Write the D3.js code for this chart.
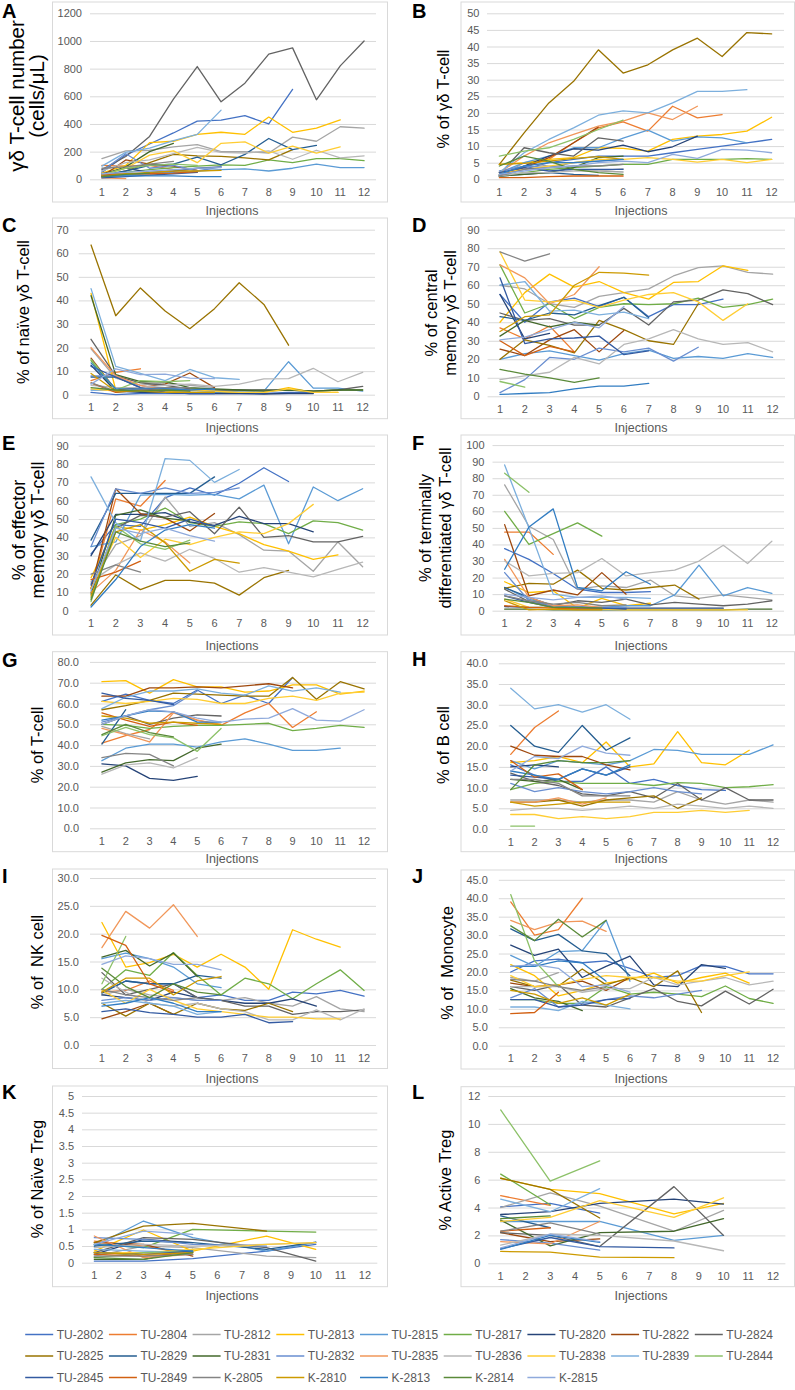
<!DOCTYPE html>
<html>
<head>
<meta charset="utf-8">
<script src="https://cdn.jsdelivr.net/npm/d3@7"></script>
<style>
  body { margin: 0; background: #fff; }
  svg { display: block; font-family: "Liberation Sans", Arial, sans-serif; }
</style>
</head>
<body>
<svg id="chart" width="795" height="1390"></svg>
<script>
// Immune monitoring panels (A–L): one line per animal, x = injection number.

const animals = ["TU-2802", "TU-2804", "TU-2812", "TU-2813", "TU-2815", "TU-2817", "TU-2820", "TU-2822", "TU-2824",
  "TU-2825", "TU-2829", "TU-2831", "TU-2832", "TU-2835", "TU-2836", "TU-2838", "TU-2839", "TU-2844",
  "TU-2845", "TU-2849", "K-2805", "K-2810", "K-2813", "K-2814", "K-2815"];
const palette = ["#4472C4", "#ED7D31", "#A5A5A5", "#FFC000", "#5B9BD5", "#70AD47", "#264478", "#9E480E", "#636363",
  "#997300", "#255E91", "#43682B", "#698ED0", "#F1975A", "#B7B7B7", "#FFCD33", "#7CAFDD", "#8CC168",
  "#335AA1", "#D26012", "#848484", "#CC9A00", "#327DC2", "#5A8A39", "#8FAADC"];

const injections = d3.range(1, 13);
const tregInjections = [1, 3, 5, 8, 10];

// A: γδ T-cell number (cells/µL)
const gdCount = {
  "TU-2802": [50, 175, 255, 335, 420, 428, 460, 400, 650],
  "TU-2804": [100, 95, 100, 70, 50],
  "TU-2812": [150, 205, 210, 235, 250, 200, 200, 190, 305, 275, 380, 370],
  "TU-2813": [45, 100, 265, 275, 325, 340, 325, 450, 340, 370, 430],
  "TU-2815": [15, 30, 40, 50, 60, 70, 75, 60, 80, 110, 85, 85],
  "TU-2817": [25, 50, 70, 85, 95, 105, 100, 140, 120, 150, 150, 135],
  "TU-2820": [40, 80, 50, 60, 80, 90],
  "TU-2822": [20, 140, 110, 95, 65],
  "TU-2824": [70, 165, 310, 580, 815, 560, 695, 905, 950, 575, 820, 1000],
  "TU-2825": [20, 60, 120, 180, 170, 165, 155, 140, 215],
  "TU-2829": [30, 60, 100, 110, 160, 105, 180, 295, 215, 245],
  "TU-2831": [30, 90, 200, 260],
  "TU-2832": [60, 185, 80, 100, 60, 90],
  "TU-2835": [10, 5],
  "TU-2836": [60, 120, 140, 185, 230, 195, 190, 205, 145, 210, 155, 170],
  "TU-2838": [30, 80, 175, 205, 120, 260, 270, 190, 240, 190, 235],
  "TU-2839": [95, 195, 225, 280, 325, 500],
  "TU-2844": [30, 80, 100, 110, 100],
  "TU-2845": [10, 20, 30, 40, 50],
  "TU-2849": [30, 40, 40, 45, 55],
  "K-2805": [80, 90, 110, 130],
  "K-2810": [20, 40, 50, 60, 60, 65],
  "K-2813": [20, 25, 25, 25, 20, 20],
  "K-2814": [20, 35, 45],
  "K-2815": [40, 50, 60, 70, 80, 85],
};

// B: % of γδ T-cell
const gdPct = {
  "TU-2802": [1, 3, 5, 6, 7, 7, 7, 8, 9, 10, 11, 12],
  "TU-2804": [1.5, 4, 6, 11, 15.5, 17.3, 14.5, 22, 18.5, 19.5],
  "TU-2812": [0.8, 5, 4, 3, 2.5, 2.2],
  "TU-2813": [4.5, 5, 6, 6.5, 9.5, 9.3, 8.5, 12, 13, 13.5, 14.5, 18.7],
  "TU-2815": [2, 5, 7, 9.5, 9.5, 12.4, 14.8, 11.5, 12.8, 12.5, 11],
  "TU-2817": [1, 2, 3, 3.5, 4, 4.5, 4.5, 6, 6, 6, 6.2, 6],
  "TU-2820": [1, 4, 7, 9.2, 8.8, 10.3, 8.3, 9.8, 13],
  "TU-2822": [1.2, 3.5, 6.5, 11, 15.8],
  "TU-2824": [1.5, 9.5, 8, 7, 12.5, 11.5],
  "TU-2825": [4.5, 14, 23, 29.5, 39, 32, 34.5, 39, 42.5, 37, 44.2, 43.8],
  "TU-2829": [1, 1.5, 2, 1.5, 1.2],
  "TU-2831": [1, 1.5, 2, 3.5, 6.5, 7],
  "TU-2832": [2.5, 4, 3.5, 5, 5.5, 6],
  "TU-2835": [2, 7, 11, 13.5, 16, 17.5, 20, 18, 22],
  "TU-2836": [1, 2, 2, 2.5, 2.5, 3.2],
  "TU-2838": [2, 3, 4, 5, 6, 6, 6.5, 6, 5.2, 6, 5, 6],
  "TU-2839": [2, 8, 12, 15.5, 19.3, 20.6, 20, 23, 26.5, 26.5, 27],
  "TU-2844": [7, 8.5, 9.5, 12, 15, 17.8],
  "TU-2845": [2, 3.5, 2.5, 3, 3, 3],
  "TU-2849": [0.5, 0.5, 0.8, 1, 1, 1],
  "K-2805": [1, 3, 3.5, 4, 4, 4.5],
  "K-2810": [4.5, 4.8, 5.5, 6.3, 6.8, 6],
  "K-2813": [1.5, 4, 5, 5, 5.5, 6],
  "K-2814": [4, 7, 5.5, 3, 2, 1.5],
  "K-2815": [1.5, 2.5, 3.5, 4, 5, 5.5, 5, 7.5, 6.3, 9, 8.8, 8],
};

// C: % of naïve γδ T-cell
const gdNaive = {
  "TU-2802": [1, 0, 0.5, 0.5, 0.5, 0.5, 0.5, 0.5, 1, 1],
  "TU-2804": [6, 9.5, 11],
  "TU-2812": [19.5, 7, 4, 5, 4, 3],
  "TU-2813": [43, 2, 1.5, 1.5, 1, 1, 1, 1, 3, 1, 1],
  "TU-2815": [2, 2, 1.5, 1, 1, 1, 1.5, 1.5, 14, 2.8, 2.8, 1.5],
  "TU-2817": [14.5, 1, 2, 2, 2.5, 2, 2, 2, 2, 1.5, 2, 2],
  "TU-2820": [12.5, 1.5, 1, 1, 0.5, 0.5, 0.5, 0.3, 0.5, 0.5],
  "TU-2822": [15.5, 2, 3, 4.5, 9.2, 3],
  "TU-2824": [23.5, 8, 5, 4, 2.5, 2, 2, 2, 2, 1.5, 2, 3.5],
  "TU-2825": [63.5, 33.5, 45.3, 35.5, 28, 36.5, 47.5, 38.3, 21],
  "TU-2829": [7.5, 7.5, 3, 2.5, 2, 1.5],
  "TU-2831": [42, 8.5, 5.5, 5.5, 3, 2.5, 2, 1.5, 2, 1.5, 2, 2],
  "TU-2832": [8, 8, 3, 3, 2, 2],
  "TU-2835": [20, 8, 4, 2, 1.5],
  "TU-2836": [4, 3, 3, 4, 4.5, 3.5, 4.5, 6.7, 6.8, 11.2, 5.5, 9.5],
  "TU-2838": [2.5, 1.5, 2, 2, 2, 1.5, 1, 1, 2.5, 1, 1],
  "TU-2839": [45, 12, 9, 6, 10.7, 7.2, 6.5],
  "TU-2844": [15, 2, 6, 5.5, 6],
  "TU-2845": [12, 7.5, 3, 1, 0.5, 0.5],
  "TU-2849": [5, 1, 2, 2, 2],
  "K-2805": [5, 1.5, 2.5, 3, 3],
  "K-2810": [9, 1.5, 1.5, 1, 1, 1],
  "K-2813": [13.5, 2.5, 2.5, 2.5, 2, 2.5],
  "K-2814": [3, 2, 1.5, 2, 1.5],
  "K-2815": [4.5, 11, 8.5, 8.7, 7, 6.8],
};

// D: % of central memory γδ T-cell
const gdCentral = {
  "TU-2802": [55, 40, 51, 53, 48.5, 53.5, 43, 49.5, 49.5, 52.5],
  "TU-2804": [37, 31, 38, 24],
  "TU-2812": [60, 58, 50, 48, 54, 56, 58, 65, 69.5, 70.5, 67, 66],
  "TU-2813": [40, 56, 66, 59, 62, 56, 52.5, 61.5, 62, 70.5, 68],
  "TU-2815": [20, 23, 24.5, 22, 19.5, 23, 25, 20.5, 21.5, 20.5, 23, 21],
  "TU-2817": [71, 45, 50, 42, 48, 50, 49.5, 50, 53, 48, 49.5, 52.5],
  "TU-2820": [55, 31, 34],
  "TU-2822": [25.5, 22, 30.5, 36, 24, 35.5],
  "TU-2824": [45, 41, 42, 38.5, 38.5, 47.5, 38.5, 51, 52, 57.5, 55.5, 49.5],
  "TU-2825": [20, 30.5, 27.5, 23.5, 41, 36, 30, 28, 50],
  "TU-2829": [43, 41, 45, 44, 49, 53.5, 42.5],
  "TU-2831": [32.5, 41, 37.5, 40, 38.5],
  "TU-2832": [2, 9, 21, 20, 26, 24, 26, 19, 26.5],
  "TU-2835": [71, 64, 50, 55, 70],
  "TU-2836": [9, 11, 13, 21, 17.5, 28, 31, 36, 31, 28, 29, 24],
  "TU-2838": [78, 52, 51, 52, 48, 52, 55, 56, 51, 41, 50],
  "TU-2839": [60, 62, 46, 46.5, 44, 45.5, 42],
  "TU-2844": [8, 5],
  "TU-2845": [64, 28.5, 31, 31.5, 32.5, 22.5, 24.5],
  "TU-2849": [30, 22, 27, 24],
  "K-2805": [78, 73, 77],
  "K-2810": [35, 43, 44, 60, 67, 66.5, 65.5],
  "K-2813": [1, 1.5, 2, 4, 5.5, 5.5, 7],
  "K-2814": [14.5, 12, 10, 7.5, 10],
  "K-2815": [30.5, 32, 36, 40, 37, 48.5],
};

// E: % of effector memory γδ T-cell
const gdEffector = {
  "TU-2802": [31, 47, 46, 61.5, 67, 63, 69.5, 78, 70.5],
  "TU-2804": [12, 61, 57, 71],
  "TU-2812": [15, 36, 41, 62, 46, 48, 41.5, 33, 32.5, 21.5, 37.5, 24],
  "TU-2813": [18, 46, 44, 47, 51, 46, 42, 36, 32.5, 28, 30.5],
  "TU-2815": [35, 37.5, 63, 63.5, 63, 63.5, 61, 68.5, 36.5, 67.5, 60, 66.5],
  "TU-2817": [7, 47, 50, 56, 48, 46, 48.5, 47.5, 42, 49, 48, 44],
  "TU-2820": [30, 52.5, 52.5, 53.5, 48.5, 46.5, 51.5, 47.5, 47.5, 43],
  "TU-2822": [12, 66.5, 53, 50.5, 43.5, 53],
  "TU-2824": [10, 45, 52, 51, 54, 42, 56.5, 40, 41, 37.5, 37.5, 40.5],
  "TU-2825": [3, 19.5, 11.5, 16.5, 16.5, 15, 8.5, 18, 22],
  "TU-2829": [38.5, 64, 64, 64, 64, 73],
  "TU-2831": [9, 52, 55, 50.5, 49],
  "TU-2832": [35, 66.5, 64, 67, 64, 64.5, 67],
  "TU-2835": [10, 22, 44, 37.5, 26],
  "TU-2836": [16, 25, 31.5, 27, 33.5, 28.5, 21, 23.5, 21, 18.5, 22.5, 26.5],
  "TU-2838": [12, 40, 29, 39, 36, 40, 43, 42, 47.5, 58],
  "TU-2839": [73, 48, 38, 83, 82, 70, 77],
  "TU-2844": [5, 46, 36.5, 33.5, 38.5],
  "TU-2845": [14, 50, 48, 45, 50, 46],
  "TU-2849": [17, 21, 27],
  "K-2805": [20, 25, 21],
  "K-2810": [8, 43, 47, 37, 21.5, 28, 26],
  "K-2813": [2, 17, 35, 44, 47, 45],
  "K-2814": [6, 43, 38, 35, 37],
  "K-2815": [11, 45, 42, 45, 41, 38],
};

// F: % of terminally differentiated γδ T-cell
const gdTerminal = {
  "TU-2802": [37.5, 31, 22.5, 13, 11, 11, 11.5],
  "TU-2804": [47.5, 47.5, 34],
  "TU-2812": [76, 51, 43, 13, 15, 14, 18.5, 9, 7.5, 9.5, 8, 6.5],
  "TU-2813": [17.5, 11, 12, 1.5, 7.5, 3, 4.5],
  "TU-2815": [14, 7, 3, 2, 2, 3, 3, 9.5, 27.5, 9, 14, 10.5],
  "TU-2817": [60, 40, 46.5, 53, 45],
  "TU-2820": [2.5, 2, 2, 2, 1.5, 1.5, 1.5, 1.5, 1.5, 1.5],
  "TU-2822": [52, 9, 12.5, 9.5, 23, 10],
  "TU-2824": [13, 5.5, 3, 6, 5, 7, 3.5, 5, 4, 3, 4, 6],
  "TU-2825": [13.5, 16.5, 16, 24.5, 13.5, 12.5, 14, 15.5, 7],
  "TU-2829": [14, 8, 3, 2.5, 1.5, 1],
  "TU-2831": [1, 1, 0.5, 0.5, 0.5, 0.5, 0.5, 0.5, 0.5, 0.5, 1, 1],
  "TU-2832": [23, 6, 3, 2.5, 2, 2],
  "TU-2835": [31, 8, 3, 3.5, 2],
  "TU-2836": [30, 21, 22.5, 23, 31.5, 21, 23, 24.5, 30, 39.5, 28.5, 42],
  "TU-2838": [7, 2, 2, 1, 1, 0.5, 0.5, 0.5, 0.5, 0.5, 0.5],
  "TU-2839": [88, 50, 10, 8, 8, 8, 7.5],
  "TU-2844": [83, 71.5],
  "TU-2845": [9, 5, 2, 1.5, 1.5, 1],
  "TU-2849": [3, 2, 1.5, 1, 1],
  "K-2805": [9, 6, 4, 5, 3, 3.5],
  "K-2810": [6, 0.5, 1, 0.5, 0.5],
  "K-2813": [25, 50.5, 61.5, 14, 12, 23.5, 16],
  "K-2814": [7, 5, 2, 2, 1.5],
  "K-2815": [10, 8, 6.5, 8, 9, 7],
};

// G: % of T-cell
const tcell = {
  "TU-2802": [61, 64.5, 61.5, 60, 66.5, 60, 64, 60, 72.5],
  "TU-2804": [41, 44.5, 47.5, 56, 52, 49.5, 55.5, 60, 48.5, 56],
  "TU-2812": [49, 45.5, 43],
  "TU-2813": [70.5, 71, 65, 71.5, 68, 68, 65.5, 66, 69, 69, 64.5, 66],
  "TU-2815": [32.5, 38.5, 40.5, 40.5, 39, 41.5, 43, 40.5, 37.5, 37.5, 38.5],
  "TU-2817": [50, 49.5, 48, 49, 49.5, 49.5, 50, 50.5, 47, 48, 49.5, 48.5],
  "TU-2820": [31, 30, 24, 23, 25],
  "TU-2822": [63.5, 63.5, 67.5, 67.5, 68, 67.5, 68.5, 69.5, 67.5],
  "TU-2824": [50, 54, 50, 53, 54.5, 54],
  "TU-2825": [57, 59, 61.5, 65, 64.5, 64, 63.5, 63.5, 72.5, 62, 70.5, 67],
  "TU-2829": [40.5, 57],
  "TU-2831": [27, 31.5, 33, 32.5, 38.5, 40.5],
  "TU-2832": [51, 54, 57, 59, 66],
  "TU-2835": [48, 45, 41.5, 55.5, 52, 50],
  "TU-2836": [26, 30.5, 31.5, 29, 34],
  "TU-2838": [61, 60, 61, 62.5, 62, 60, 60, 62.5, 63.5, 61.5, 65, 65.5],
  "TU-2839": [57.5, 63, 66, 66, 67, 65, 64, 68.5, 66, 67.5, 65.5],
  "TU-2844": [44.5, 48.5, 45, 43.5, 37, 48],
  "TU-2845": [65, 62.5, 61.5, 59.5],
  "TU-2849": [55.5, 52, 49, 51, 49.5],
  "K-2805": [34, 36, 35.5, 30],
  "K-2810": [54, 53, 50.5, 51, 50.5, 50],
  "K-2813": [52, 54, 56.5, 56, 51, 51],
  "K-2814": [45, 50, 46, 44],
  "K-2815": [50, 54, 57, 56, 53, 51, 52.5, 53, 57.5, 52, 51.5, 57],
};

// H: % of B cell
const bcell = {
  "TU-2802": [15.5, 13, 11.5, 11.5, 15, 11, 12, 10.5, 9.5, 9.3],
  "TU-2804": [18, 24.5, 28.5],
  "TU-2812": [7, 7, 7, 6.5, 7, 7, 6.5, 9, 7, 6, 7, 6.5],
  "TU-2813": [16, 16.5, 17.5, 16, 21, 15, 15.7, 23.5, 16, 15.5, 19],
  "TU-2815": [16.5, 14.5, 16.5, 16, 15.5, 16.5, 19.2, 19, 18, 18, 18, 20.3],
  "TU-2817": [9.5, 11, 11.5, 11, 11, 11, 10.5, 11.2, 11, 10, 10.2, 10.7],
  "TU-2820": [15, 15.5, 15],
  "TU-2822": [20, 17.8, 17.5, 17.5, 15.5, 14.3],
  "TU-2824": [13.5, 11.5, 10.5, 8.5, 8, 9, 7.5, 11, 7, 10, 7, 7],
  "TU-2825": [6.5, 6.5, 7, 5.5, 7, 7.5, 8, 5, 7.5],
  "TU-2829": [25, 20, 18.5, 25, 19, 22],
  "TU-2831": [12, 11.5, 12, 9.5],
  "TU-2832": [11, 9, 10, 9, 8.5, 9, 10, 9, 8.5],
  "TU-2835": [6.5, 6.5, 7.5, 6, 7.5],
  "TU-2836": [4.5, 5, 5, 4.5, 5, 5.5, 5, 6, 5.5, 5, 5.5, 5],
  "TU-2838": [3.5, 3.5, 2.5, 3, 2.5, 3, 4, 4, 4.5, 4, 4.5],
  "TU-2839": [34, 29, 30, 28.2, 30, 26.5],
  "TU-2844": [0.7, 0.7],
  "TU-2845": [13, 12.5, 12, 14.5, 13, 15],
  "TU-2849": [16.5, 12.5, 13.3, 9.5],
  "K-2805": [12, 12, 11, 8, 8, 8],
  "K-2810": [6.5, 5.5, 6, 6.5, 6.5, 6.5],
  "K-2813": [14, 13, 12, 14.5, 13, 15.5],
  "K-2814": [9.5, 15.5, 16.5, 16, 16, 16.5],
  "K-2815": [14, 17.5, 17, 20, 18.3, 17.8],
};

// I: % of NK cell
const nkcell = {
  "TU-2802": [9.5, 11.5, 11, 11, 8.5, 9, 8, 8, 9.5, 9.2, 9.8, 8.8],
  "TU-2804": [9.5, 9.8, 11.5, 9.8],
  "TU-2812": [9, 10, 9, 8.5, 8, 8, 8.5, 7.5, 7, 8.7, 6.5, 6],
  "TU-2813": [22, 14, 14.8, 16.3, 14, 16.3, 14, 10, 20.7, 19, 17.6],
  "TU-2815": [15.5, 16.5, 15.5, 14, 11, 10.3],
  "TU-2817": [10, 13.5, 12.5, 16.6, 12.5, 9, 12, 11, 8.3, 11, 13.5, 9.8],
  "TU-2820": [9, 8.5, 8, 9.5, 8.5, 8, 7.5, 7.5, 8.3, 7],
  "TU-2822": [4.7, 6, 7.5, 5.5],
  "TU-2824": [13, 9, 10, 11, 8.5, 8, 7, 7, 5.5, 6, 6, 6.3],
  "TU-2825": [7.5, 5.2, 7.5, 5.5, 7.5, 6.5, 6.2, 7.5, 6],
  "TU-2829": [9.3, 11.5, 11, 11, 12.5, 12],
  "TU-2831": [15.8, 17, 14.2, 16.5, 12.3],
  "TU-2832": [8, 8.5, 8, 8.5, 8, 8],
  "TU-2835": [17.5, 24, 21, 25.2, 19.5],
  "TU-2836": [12, 9.5, 7.5, 7, 7.5, 6.5, 6, 4.5, 4.5, 6.3, 4.5, 6.5],
  "TU-2838": [9.8, 7.5, 10, 8, 6.5, 6, 5.5, 5, 5, 4.7, 4.7],
  "TU-2839": [7.5, 8, 7.5, 7, 5.5, 6],
  "TU-2844": [11, 19.5],
  "TU-2845": [6, 6.5, 5.8, 5.5, 5, 5, 5.5, 4, 4.2],
  "TU-2849": [19.7, 17.9, 11, 9.5],
  "K-2805": [10, 9, 8.5, 8, 8.5],
  "K-2810": [9.5, 12, 12, 9, 11.5, 12.3],
  "K-2813": [7, 7.5, 8.5, 7.5, 6, 6],
  "K-2814": [13.8, 10.5, 8.5, 11, 9.5, 9],
  "K-2815": [14.5, 16, 15.5, 14.5, 14.5, 13.5],
};

// J: % of Monocyte
const monocyte = {
  "TU-2802": [20, 23, 23.5, 22.5, 23, 21, 18.5, 19, 21.7, 21.5, 19.5, 19.5],
  "TU-2804": [39, 30, 31.5, 40],
  "TU-2812": [18.5, 17.5, 19.8],
  "TU-2813": [22, 19, 13.5, 15, 17, 18, 19.7, 17, 18.5, 19.7, 17],
  "TU-2815": [24.5, 21.5, 25.5, 25.8, 34, 17.5],
  "TU-2817": [12.5, 12.5, 11.5, 11.5, 16, 14, 14.5, 14, 13.3, 16.2, 12.8, 11.5],
  "TU-2820": [27.3, 24.5, 26.2, 18.5, 21.5, 24.3, 16.5, 16, 22, 21],
  "TU-2822": [17, 16, 16.5, 17.5, 15, 18.5],
  "TU-2824": [16, 15, 16.5, 11, 10.5, 13, 15.5, 12, 10.8, 14.8, 11.3, 15.3],
  "TU-2825": [17.8, 16, 16.2, 20.8, 16.5, 18.5, 16, 20.3, 9],
  "TU-2829": [31.7, 28.5, 30.2, 25.7, 25, 19],
  "TU-2831": [15.5, 13, 12, 9.5],
  "TU-2832": [13, 15.5, 10.5, 11.5, 12.5, 13.5, 13, 14, 15],
  "TU-2835": [34, 31.5, 33.5, 33.8, 31],
  "TU-2836": [16, 16, 16, 14.5, 15.5, 15.5, 18.5, 16.5, 17.5, 18.5, 16.5, 17.5],
  "TU-2838": [19, 16, 16.5, 18, 19, 18.5, 18.5, 17.5, 17.5, 19, 20],
  "TU-2839": [10.5, 10.5, 9.5, 12, 11, 10],
  "TU-2844": [41, 23, 16],
  "TU-2845": [12.5, 12.5, 10.5, 11, 12.5, 12.8],
  "TU-2849": [8.7, 9, 14.5],
  "K-2805": [18, 17.5, 16, 15, 16],
  "K-2810": [15, 14, 11.5, 13, 11, 14],
  "K-2813": [21.5, 21.5, 23, 22.5, 17.5],
  "K-2814": [32.5, 28.5, 34.3, 29.5, 34],
  "K-2815": [21.5, 22, 21, 16, 16.5, 14.5],
};

// K: % of naïve Treg (measured at injections 1, 3, 5, 8, 10)
const tregNaive = {
  "TU-2802": [0.05, 0.05, 0.12, 0.35, 0.55],
  "TU-2804": [0.65, 0.5, 0.25],
  "TU-2812": [0.2, 0.5, 0.45, 0.2, 0.15],
  "TU-2813": [0.35, 0.98, 0.35, 0.8, 0.4],
  "TU-2815": [0.5, 1.25, 0.75, 0.35, 0.6],
  "TU-2817": [0.55, 0.45, 1.0, 0.95, 0.92],
  "TU-2820": [0.25, 0.7, 0.6],
  "TU-2822": [0.6, 0.55, 0.2],
  "TU-2824": [0.3, 0.75, 0.7, 0.45, 0.05],
  "TU-2825": [0.6, 1.1, 1.18, 0.95],
  "TU-2829": [0.5, 0.65, 0.6, 0.4, 0.62],
  "TU-2831": [0.1, 0.1, 0.4],
  "TU-2832": [0.75, 0.7, 0.55, 0.5],
  "TU-2835": [0.8, 0.15, 0.25],
  "TU-2836": [0.45, 0.55, 0.5, 0.55, 0.6],
  "TU-2838": [0.3, 0.3, 0.4, 0.55, 0.6],
  "TU-2839": [0.4, 0.35, 0.3],
  "TU-2844": [0.15, 0.3, 0.35],
  "TU-2845": [0.3, 0.25, 0.35],
  "TU-2849": [0.25, 0.2, 0.3],
  "K-2805": [0.2, 0.2, 0.25],
  "K-2810": [0.3, 0.25, 0.3],
  "K-2813": [0.55, 0.45, 0.35],
  "K-2814": [0.15, 0.1, 0.3],
  "K-2815": [0.55, 0.95, 0.85],
};

// L: % active Treg (measured at injections 1, 3, 5, 8, 10)
const tregActive = {
  "TU-2802": [4.05, 4.3, 3.6],
  "TU-2804": [4.85, 4.15],
  "TU-2812": [4, 5.05, 4.1, 2.3, 3.8],
  "TU-2813": [6.1, 5.3, 5.0, 3.55, 4.3],
  "TU-2815": [3.0, 3.0, 3.0, 1.65, 2.0],
  "TU-2817": [6.4, 4.2],
  "TU-2820": [3.5, 3.7, 4.3, 4.6, 4.25],
  "TU-2822": [2.2, 1.55, 1.75],
  "TU-2824": [2.2, 2.0, 1.2, 5.5, 2],
  "TU-2825": [6.1, 5.3, 3.25],
  "TU-2829": [3.4, 2.55],
  "TU-2831": [3.1, 1.25, 2.2, 2.3, 3.2],
  "TU-2832": [1.7, 1.45, 0.95],
  "TU-2835": [1.55, 1.4, 3.0],
  "TU-2836": [1.3, 2.1, 2.0, 1.6, 0.9],
  "TU-2838": [3.0, 3.3, 4.5, 3.3, 4.7],
  "TU-2839": [4.6, 3.7, 5.35],
  "TU-2844": [11, 5.9, 7.35],
  "TU-2845": [1.05, 1.85, 1.2, 1.1],
  "TU-2849": [2.3, 2.55],
  "K-2805": [2.3, 2.9, 2.1],
  "K-2810": [0.85, 0.8, 0.45, 0.4],
  "K-2813": [1.0, 2.0, 1.5],
  "K-2814": [3.2, 3.4],
  "K-2815": [1.1, 2.1, 1.55],
};

// ── panel definitions ────────────────────────────────────────────────────

const fmtInt = d3.format("d");
const fmt1 = d3.format(".1f");
const fmtHalf = d => String(d);

const panels = [
  { letter: "A", data: gdCount, xs: injections, yMax: 1200, yStep: 200, fmt: fmtInt, title: ["γδ T-cell number", "(cells/μL)"] },
  { letter: "B", data: gdPct, xs: injections, yMax: 50, yStep: 5, fmt: fmtInt, title: ["% of γδ T-cell"] },
  { letter: "C", data: gdNaive, xs: injections, yMax: 70, yStep: 10, fmt: fmtInt, title: ["% of naïve γδ T-cell"] },
  { letter: "D", data: gdCentral, xs: injections, yMax: 90, yStep: 10, fmt: fmtInt, title: ["% of central", "memory γδ T-cell"] },
  { letter: "E", data: gdEffector, xs: injections, yMax: 90, yStep: 10, fmt: fmtInt, title: ["% of effector", "memory γδ T-cell"] },
  { letter: "F", data: gdTerminal, xs: injections, yMax: 100, yStep: 10, fmt: fmtInt, title: ["% of terminally", "differentiated γδ T-cell"] },
  { letter: "G", data: tcell, xs: injections, yMax: 80, yStep: 10, fmt: fmt1, title: ["% of T-cell"] },
  { letter: "H", data: bcell, xs: injections, yMax: 40, yStep: 5, fmt: fmt1, title: ["% of B cell"] },
  { letter: "I", data: nkcell, xs: injections, yMax: 30, yStep: 5, fmt: fmt1, title: ["% of  NK cell"] },
  { letter: "J", data: monocyte, xs: injections, yMax: 45, yStep: 5, fmt: fmt1, title: ["% of  Monocyte"] },
  { letter: "K", data: tregNaive, xs: tregInjections, yMax: 5, yStep: 0.5, fmt: fmtHalf, title: ["% of Naïve Treg"] },
  { letter: "L", data: tregActive, xs: tregInjections, yMax: 12, yStep: 2, fmt: fmtInt, title: ["% Active Treg"] },
];

// frame / plot rectangles [x0, y0, x1, y1], title line x positions, etc.
const layout = {
  A: { frame: [52.5, 2, 387.5, 202], plot: [90, 13.3, 376, 179.3], letterY: 18, titleX: [16.5, 36.5], titleY: 96, titleSize: 20.5, injY: 210.7, gap: 8 },
  B: { frame: [461, 2, 794.5, 202], plot: [487, 13.3, 784, 179.3], letterY: 18, titleX: [443], titleY: 99, titleSize: 16.5, injY: 210.5, gap: 7.5 },
  C: { frame: [52.5, 218, 387.5, 418.7], plot: [78.7, 229.7, 375, 394.7], letterY: 232, titleX: [23.5], titleY: 312, titleSize: 16.5, injY: 428, gap: 10 },
  D: { frame: [461, 218, 794.5, 418.7], plot: [487.6, 229.7, 785, 396.3], letterY: 232, titleX: [431.5, 450.5], titleY: 313, titleSize: 16.5, injY: 428, gap: 8 },
  E: { frame: [52.5, 435, 387.5, 635], plot: [78.7, 445.7, 375, 610.7], letterY: 450, titleX: [18.5, 37.5], titleY: 530, titleSize: 18, injY: 645.7, gap: 10 },
  F: { frame: [461, 435, 794.5, 635], plot: [492.5, 445.1, 784, 610.7], letterY: 450, titleX: [425.5, 445.5], titleY: 528, titleSize: 16.5, injY: 645.7, gap: 8 },
  G: { frame: [52.5, 651.7, 387.5, 851.7], plot: [90, 661.9, 376, 828.3], letterY: 667, titleX: [37.5], titleY: 745, titleSize: 16.5, injY: 859, gap: 11 },
  H: { frame: [461, 651.7, 794.5, 851.7], plot: [498.8, 663.3, 785, 829], letterY: 666, titleX: [443.5], titleY: 745, titleSize: 16.5, injY: 859, gap: 11 },
  I: { frame: [52.5, 869, 387.5, 1068.5], plot: [90, 878, 376, 1045], letterY: 883, titleX: [37.5], titleY: 962, titleSize: 16.5, injY: 1079, gap: 11 },
  J: { frame: [461, 870, 794.5, 1069], plot: [498.8, 879.8, 785, 1045.7], letterY: 883, titleX: [447.5], titleY: 963, titleSize: 16.5, injY: 1079, gap: 11 },
  K: { frame: [52.5, 1086, 387.5, 1286.7], plot: [82, 1096, 377.3, 1262.7], letterY: 1099, titleX: [37.5], titleY: 1179, titleSize: 16.5, injY: 1296, gap: 8 },
  L: { frame: [461, 1086.7, 794.5, 1286.7], plot: [488.3, 1096, 785.4, 1263.3], letterY: 1099, titleX: [445.5], titleY: 1180, titleSize: 16.5, injY: 1296, gap: 8 },
};

const GRID = "#D9D9D9";
const LABEL = "#595959";

const svg = d3.select("#chart");
const color = d3.scaleOrdinal(animals, palette);

function drawPanel(p) {
  const L = layout[p.letter];
  const left = L.frame[0] < 400;
  const g = svg.append("g");

  g.append("rect")
    .attr("x", L.frame[0]).attr("y", L.frame[1])
    .attr("width", L.frame[2] - L.frame[0]).attr("height", L.frame[3] - L.frame[1])
    .attr("fill", "#fff").attr("stroke", GRID).attr("stroke-width", 1);

  const [px0, py0, px1, py1] = L.plot;
  const x = d3.scaleBand().domain(injections).range([px0, px1]);
  const xc = v => x(v) + x.bandwidth() / 2;
  const y = d3.scaleLinear().domain([0, p.yMax]).range([py1, py0]);

  const ticks = d3.range(0, p.yMax + p.yStep / 2, p.yStep);
  const yAxis = g.append("g")
    .attr("transform", `translate(${px0},0)`)
    .call(d3.axisLeft(y).tickValues(ticks).tickSize(-(px1 - px0)).tickPadding(L.gap).tickFormat(p.fmt));
  yAxis.select(".domain").remove();
  yAxis.selectAll("line").attr("stroke", GRID);
  yAxis.selectAll("text").attr("fill", LABEL).attr("font-size", 11).attr("font-family", null);

  const xAxis = g.append("g")
    .attr("transform", `translate(0,${py1})`)
    .call(d3.axisBottom(x).tickSize(0).tickPadding(9));
  xAxis.select(".domain").remove();
  xAxis.selectAll("text").attr("fill", LABEL).attr("font-size", 11).attr("font-family", null);

  const line = d3.line().x(d => xc(d.x)).y(d => y(d.v));
  for (const name of animals) {
    const vals = p.data[name];
    if (!vals) continue;
    const pts = vals.map((v, i) => ({ x: p.xs[i], v })).filter(d => d.v != null);
    g.append("path")
      .datum(pts)
      .attr("d", line)
      .attr("fill", "none")
      .attr("stroke", color(name))
      .attr("stroke-width", 1.3)
      .attr("stroke-linejoin", "round")
      .attr("stroke-linecap", "round");
  }

  // axis titles
  const t = g.append("text")
    .attr("transform", `translate(0,${L.titleY}) rotate(-90)`)
    .attr("text-anchor", "middle")
    .attr("font-size", L.titleSize)
    .attr("fill", "#000");
  p.title.forEach((s, i) => {
    t.append("tspan").attr("x", 0).attr("y", L.titleX[i]).attr("dy", "0.35em")
      .attr("xml:space", "preserve").style("white-space", "pre").text(s);
  });

  g.append("text")
    .attr("x", left ? 232 : 641).attr("y", L.injY).attr("dy", "0.35em")
    .attr("text-anchor", "middle").attr("font-size", 12.5).attr("fill", LABEL)
    .text("Injections");

  g.append("text")
    .attr("x", left ? 2 : 412).attr("y", L.letterY)
    .attr("font-size", 20).attr("font-weight", "bold").attr("fill", "#000")
    .text(p.letter);
}

panels.forEach(drawPanel);

// ── legend ───────────────────────────────────────────────────────────────

const legendRows = [1334.5, 1356, 1377.5];
const legend = svg.append("g");
animals.forEach((name, i) => {
  const row = Math.floor(i / 9), col = i % 9;
  const tx = 56.7 + col * 83.7, ty = legendRows[row];
  legend.append("line")
    .attr("x1", tx - 31.5).attr("x2", tx - 3.5).attr("y1", ty).attr("y2", ty)
    .attr("stroke", color(name)).attr("stroke-width", 1.5);
  legend.append("text")
    .attr("x", tx).attr("y", ty).attr("dy", "0.35em")
    .attr("font-size", 12).attr("fill", LABEL).text(name);
});
</script>
</body>
</html>
